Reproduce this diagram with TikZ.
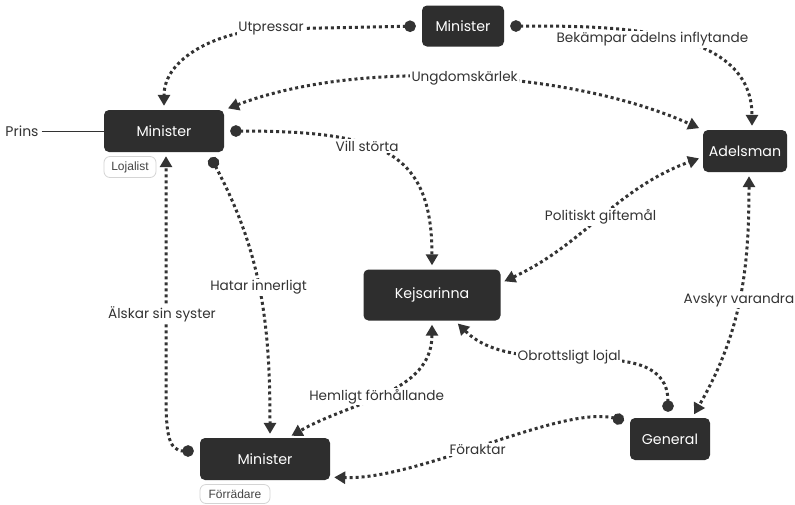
\documentclass[tikz,border=0pt]{standalone}
\usepackage{fontspec}
\setmainfont{Poppins}
\newfontfamily\tagfont{Liberation Sans}
\usetikzlibrary{arrows.meta}
\definecolor{boxfill}{HTML}{2E2E2E}
\definecolor{ink}{HTML}{333333}
\definecolor{tagline}{HTML}{D4D4D4}
\definecolor{tagtext}{HTML}{444444}
\tikzset{
  role/.style={rectangle, rounded corners=5pt, fill=boxfill, text=white,
    font=\fontsize{14.2}{16}\selectfont, inner sep=0pt},
  lbl/.style={fill=white, text=ink, font=\fontsize{13.6}{15}\selectfont, inner sep=1.5pt},
  tagbox/.style={draw=tagline, line width=0.8pt, rounded corners=6pt, fill=white, text=tagtext,
    font=\tagfont\fontsize{12}{14}\selectfont, inner sep=0pt},
  dotline/.style={draw=ink, line width=3pt, dash pattern=on 3pt off 3pt},
  rel/.style={dotline, arrows={Circle[length=11.5pt]-Triangle[length=11pt,width=12pt]},
    shorten <=6pt, shorten >=4pt},
  mutual/.style={dotline, arrows={Triangle[length=11pt,width=12pt]-Triangle[length=11pt,width=12pt]},
    shorten <=4pt, shorten >=4pt},
}
\begin{document}
\begin{tikzpicture}[x=1pt,y=-1pt]
\fill[white] (0,0) rectangle (795,504);
\useasboundingbox (0,0) rectangle (795,504);

% characters
\node[role, minimum width=82pt, minimum height=41pt] (tm) at (463,26) {Minister};
\node[role, minimum width=120pt, minimum height=42pt] (lm) at (164,131) {Minister};
\node[role, minimum width=84pt, minimum height=42pt] (ad) at (745,151) {Adelsman};
\node[role, minimum width=137pt, minimum height=51pt] (kj) at (432,295) {Kejsarinna};
\node[role, minimum width=80pt, minimum height=42pt] (gn) at (670,439) {General};
\node[role, minimum width=130pt, minimum height=42pt] (bm) at (265,459) {Minister};

% tags
\node[tagbox, minimum width=52pt, minimum height=21pt] (loj) at (130,167) {Lojalist};
\node[tagbox, minimum width=70pt, minimum height=19pt] (forr) at (235,494) {Förrädare};

% prince
\node[text=ink, font=\fontsize{14}{16}\selectfont, inner sep=3pt] (prins) at (22,131) {Prins};
\draw[ink, line width=0.8pt] (prins) -- (lm);

% relations
\draw[rel] (tm.west) -- (271,29) node[lbl]{Utpressar}
  to[out=182,in=90] (lm.north);
\draw[rel] (tm.east) to[out=0,in=90] node[lbl,pos=0.45,yshift=-4pt]{Bekämpar adelns inflytande}
  ([xshift=7pt]ad.north);
\draw[mutual] (lm.north east) .. controls (360,58) and (570,70) ..
  node[lbl,pos=0.5]{Ungdomskärlek} (ad.north west);
\draw[rel] (lm.east) .. controls (380,131) and (432,150) ..
  node[lbl,pos=0.41]{Vill störta} (kj.north);
\draw[rel] ([xshift=44pt]lm.south) to[out=-62,in=90]
  node[lbl,pos=0.49]{Hatar innerligt} ([xshift=5pt]bm.north);
\draw[rel] ([yshift=8pt]bm.west) .. controls (167,451) and (166,430) .. (166,390)
  -- node[lbl,pos=0.32,xshift=-4pt]{Älskar sin syster} ([xshift=2pt]lm.south);
\draw[mutual] ([yshift=12pt]kj.east) to[out=25,in=200]
  node[lbl,pos=0.5]{Politiskt giftemål} ([yshift=-6pt]ad.west);
\draw[mutual] ([xshift=4pt]ad.south) to[out=-90,in=60]
  node[lbl,pos=0.5]{Avskyr varandra} ([xshift=22pt]gn.north);
\draw[rel] ([xshift=-2pt]gn.north) to[out=90,in=-45]
  node[lbl,pos=0.56]{Obrottsligt lojal} ([xshift=23pt]kj.south);
\draw[mutual] (kj.south) to[out=-90,in=30]
  node[lbl,pos=0.54]{Hemligt förhållande} ([xshift=23pt]bm.north);
\draw[rel] ([yshift=-4pt]gn.north west) .. controls (560,405) and (420,480) ..
  node[lbl,pos=0.53,yshift=-2pt]{Föraktar} ([yshift=3pt]bm.south east);
\end{tikzpicture}
\end{document}
